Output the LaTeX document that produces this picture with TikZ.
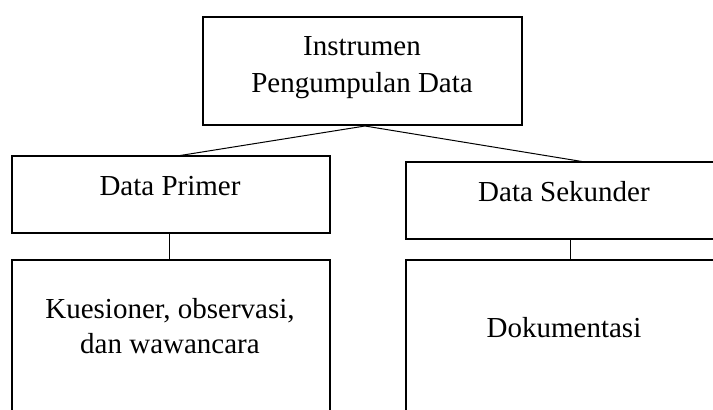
\documentclass[tikz,border=0pt]{standalone}
\usepackage{fontspec}
\setmainfont{Liberation Serif}
\begin{document}
\begin{tikzpicture}[x=1pt,y=-1pt,
  box/.style={draw, line width=2pt, rectangle, inner sep=0pt, outer sep=0pt, anchor=north west},
  link/.style={line width=1pt},
  lbl/.style={font=\fontsize{29}{37}\selectfont, inner sep=0pt, anchor=base}]
\useasboundingbox (0,0) rectangle (713,410);
\clip (0,0) rectangle (713,410);

% boxes
\node[box, minimum width=319pt, minimum height=108pt] (top) at (203,17) {};
\node[box, minimum width=318pt, minimum height=77pt] (prim) at (12,156) {};
\node[box, minimum width=324pt, minimum height=77pt] (sek) at (406,162) {};
\node[box, minimum width=318pt, minimum height=170pt] (kue) at (12,260) {};
\node[box, minimum width=324pt, minimum height=170pt] (dok) at (406,260) {};

% labels
\node[lbl] (t1) at (362,55) {Instrumen};
\node[lbl] (t2) at (362,92) {Pengumpulan Data};
\node[lbl] (p1) at (170,195) {Data Primer};
\node[lbl] (s1) at (564,201) {Data Sekunder};
\node[lbl] (k1) at (170,318) {Kuesioner, observasi,};
\node[lbl] (k2) at (170,353) {dan wawancara};
\node[lbl] (d1) at (564,337) {Dokumentasi};

% connectors
\coordinate (hub) at (365,126);
\coordinate (pl) at (177,0);
\coordinate (sl) at (585,0);
\coordinate (pv) at (169,0);
\coordinate (sv) at (570,0);
\draw[link] (prim.north -| pl) -- (hub) -- (sek.north -| sl);
\draw[link] (prim.south -| pv) -- (kue.north -| pv);
\draw[link] (sek.south -| sv) -- (dok.north -| sv);
\end{tikzpicture}
\end{document}
